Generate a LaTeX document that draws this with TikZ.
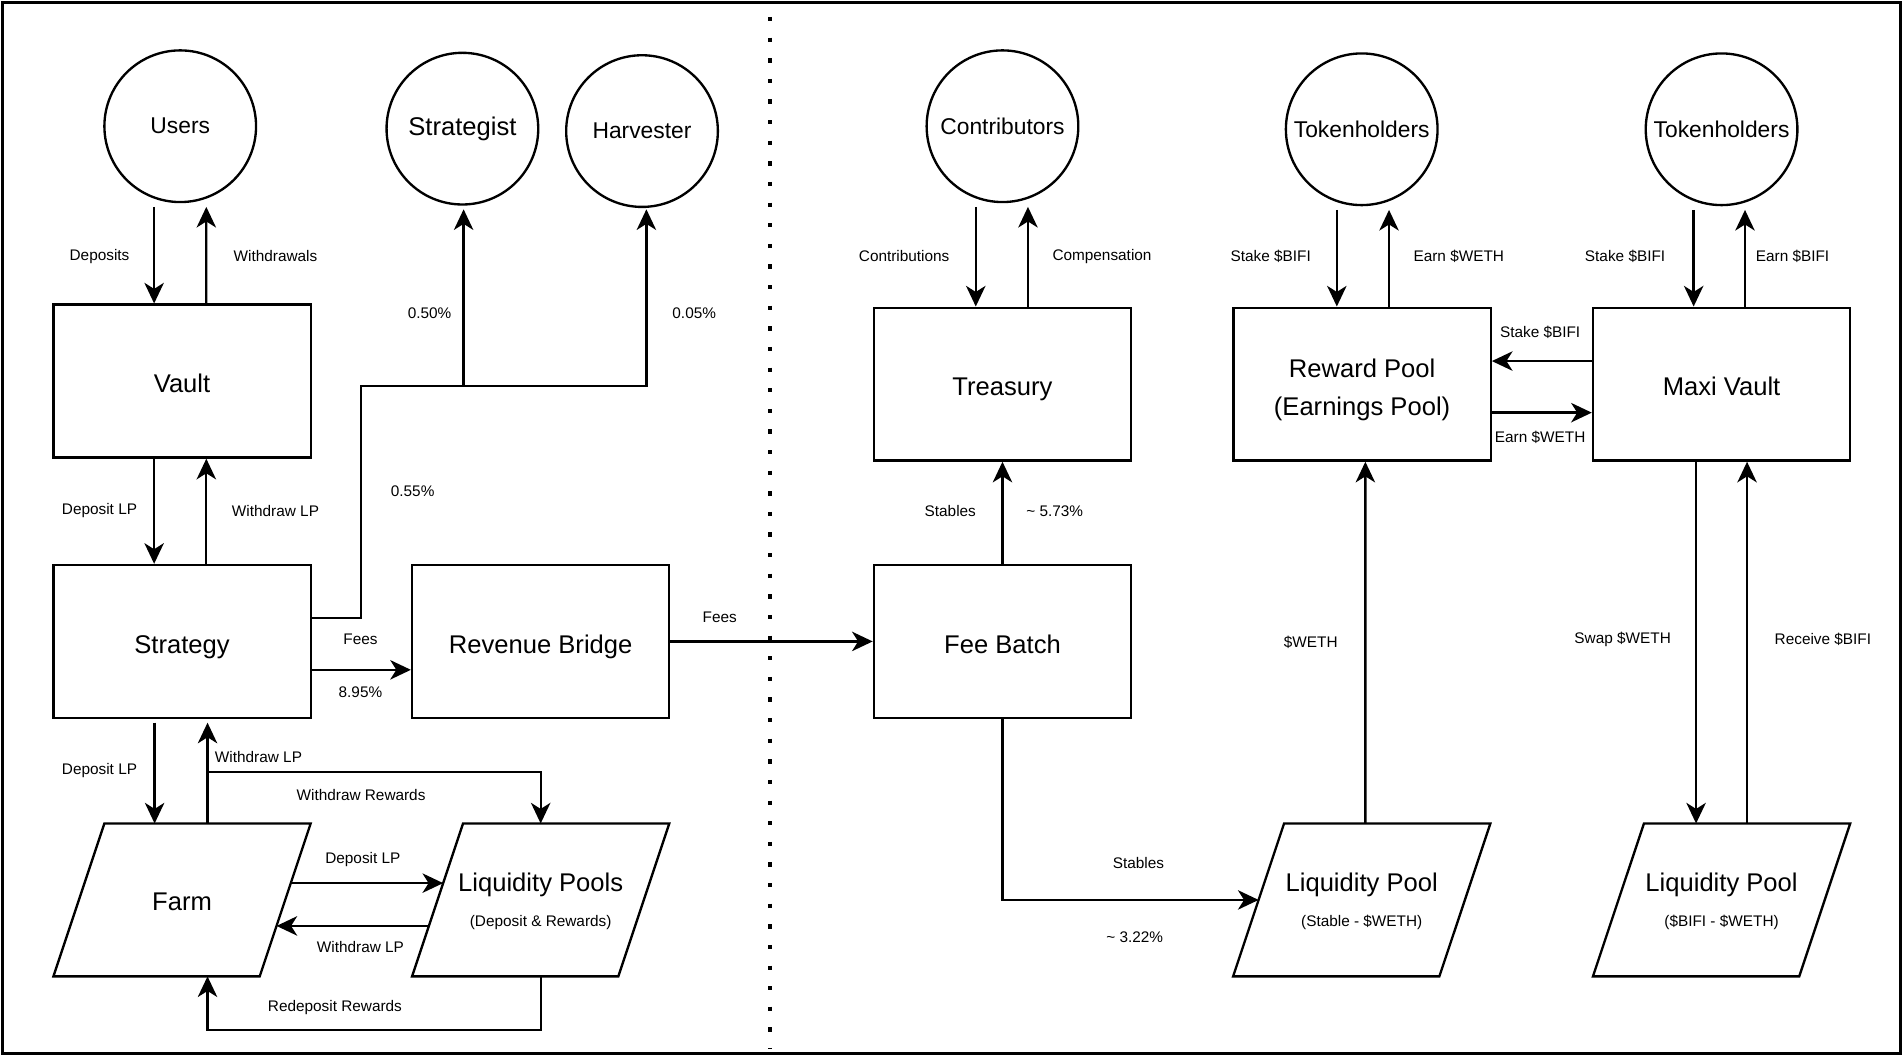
\documentclass[tikz,border=0pt]{standalone}
\usepackage{fontspec}
\setmainfont{Liberation Sans}
\usetikzlibrary{arrows.meta}
\usetikzlibrary{calc}

\def \lw {1.1pt}
\def \slant {42}
\newcommand{\pooltext}[1]{{\fontsize{7.2}{9}\selectfont #1}}

\tikzset{
  box/.style={draw, line width=\lw, minimum width=4.24cm, minimum height=2.52cm, inner sep=0pt, align=center, text height=11pt, text depth=0pt, font=\fontsize{12}{17.6}\selectfont},
  actor/.style={draw, circle, line width=\lw, minimum size=2.5cm, inner sep=0pt, font=\fontsize{10.7}{13}\selectfont},
  pool/.style={minimum width=4.24cm, minimum height=2.52cm, inner sep=0pt, outer sep=0pt, align=center, text depth=0pt, font=\fontsize{12}{16.4}\selectfont},
  flow/.style={line width=\lw, -{Stealth[length=0.34cm, width=0.32cm, inset=0.1cm]}},
  lbl/.style={inner sep=0pt, font=\fontsize{7.2}{9}\selectfont}
}

\begin{document}
\begin{tikzpicture}[x=0.02cm, y=-0.02cm]
	\useasboundingbox (0,0) rectangle (1568,870);

	% frame and divider
	\draw[line width=\lw] (2,2) rectangle (1566,868);
	\draw[line width=2pt, dash pattern=on 2pt off 7.67pt] (634.6,14) -- (634.6,864);

	% actors
	\node[actor] (users) at (148.5,104) {Users};
	\node[actor, font=\fontsize{12}{15}\selectfont] (strategist) at (381,106) {Strategist};
	\node[actor] (harvester) at (529,108) {Harvester};
	\node[actor] (contrib) at (826,104) {Contributors};
	\node[actor] (holdersA) at (1122,106.5) {Tokenholders};
	\node[actor] (holdersB) at (1418.5,106.5) {Tokenholders};

	% contracts
	\node[box] (vault) at (150,314) {Vault};
	\node[box] (strategy) at (150,528.5) {Strategy};
	\node[box] (bridge) at (445.5,528.5) {Revenue Bridge};
	\node[box] (treasury) at (826,316.5) {Treasury};
	\node[box] (feebatch) at (826,528.5) {Fee Batch};
	\node[box, text height=29pt] (reward) at (1122.3,316.5) {Reward Pool\\(Earnings Pool)};
	\node[box] (maxi) at (1418.5,316.5) {Maxi Vault};

	% pools
	\node[pool, text height=10pt] (farm) at (150,741.5) {Farm};
	\node[pool] (lpools) at (445.5,741.5) {Liquidity Pools\\\pooltext{(Deposit \& Rewards)}};
	\node[pool] (lpstable) at (1122,741.5) {Liquidity Pool\\\pooltext{(Stable - \$WETH)}};
	\node[pool] (lpbifi) at (1418.5,741.5) {Liquidity Pool\\\pooltext{(\$BIFI - \$WETH)}};

	\foreach \p in {farm,lpools,lpstable,lpbifi} {
		\coordinate (\p-tl) at ($(\p.north west)+(\slant,0)$);
		\coordinate (\p-br) at ($(\p.south east)+(-\slant,0)$);
		\draw[line width=\lw] (\p.south west) -- (\p-tl) -- (\p.north east) -- (\p-br) -- cycle;
	}

	% vault side
	\draw[flow] ($(users.south)+(-21.5,3)$) -- ($(vault.north)+(-23,0)$);
	\draw[flow] ($(vault.north)+(20,0)$) -- ($(users.south)+(21.5,3)$);
	\draw[flow] ($(vault.south)+(-23,0)$) -- ($(strategy.north)+(-23,0)$);
	\draw[flow] ($(strategy.north)+(20,0)$) -- ($(vault.south)+(20,0)$);

	\coordinate (split) at (382,318);
	\draw[flow] ($(strategy.north east)+(0,44.5)$) -| ($(split)+(-84.4,0)$) -| ($(harvester.south)+(3.6,1)$);
	\draw[flow] (split) -- ($(strategist.south)+(1,3)$);

	\draw[flow] ($(strategy.east)+(0,23.4)$) -- ($(bridge.west)+(0,23.4)$);
	\draw[flow] (bridge.east) -- (feebatch.west);

	\draw[flow] ($(strategy.south)+(-22.6,3)$) -- ($(farm.north)+(-22.6,0)$);
	\draw[flow] ($(farm.north)+(21,0)$) -- ($(strategy.south)+(21,3)$);
	\draw[flow] ($(farm.north)+(21,-42.5)$) -| (lpools.north);
	\draw[flow] ($(farm.north east)!0.39!(farm-br)$) -- ($(lpools-tl)!0.39!(lpools.south west)$);
	\draw[flow] ($(lpools-tl)!0.67!(lpools.south west)$) -- ($(farm.north east)!0.67!(farm-br)$);
	\draw[flow] (lpools.south) -- ++(0,44) -| ($(farm.south)+(21,0)$);

	% treasury side
	\draw[flow] ($(contrib.south)+(-22,3)$) -- ($(treasury.north)+(-22,0)$);
	\draw[flow] ($(treasury.north)+(21,0)$) -- ($(contrib.south)+(21,3)$);
	\draw[flow] (feebatch.north) -- (treasury.south);
	\draw[flow] (feebatch.south) |- ($(lpstable.west)+(\slant/2,0)$);
	\draw[flow] ($(lpstable.north)+(3,0)$) -- ($(reward.south)+(2.7,0)$);

	\draw[flow] ($(holdersA.south)+(-20.5,3)$) -- ($(reward.north)+(-20.8,0)$);
	\draw[flow] ($(reward.north)+(22.2,0)$) -- ($(holdersA.south)+(22.5,3)$);
	\draw[flow] ($(maxi.west)+(0,-19)$) -- ($(reward.east)+(0,-19)$);
	\draw[flow] ($(reward.east)+(0,23.5)$) -- ($(maxi.west)+(0,23.5)$);

	\draw[flow] ($(holdersB.south)+(-23,3)$) -- ($(maxi.north)+(-23,0)$);
	\draw[flow] ($(maxi.north)+(19.3,0)$) -- ($(holdersB.south)+(19.3,3)$);
	\draw[flow] ($(maxi.south)+(-21,0)$) -- ($(lpbifi.north)+(-21,0)$);
	\draw[flow] ($(lpbifi.north)+(21,0)$) -- ($(maxi.south)+(21,0)$);

	% labels
	\node[lbl] (lDeposits) at (82,211) {Deposits};
	\node[lbl] (lWithdrawals) at (227,211) {Withdrawals};
	\node[lbl] (lDepositA) at (82,421) {Deposit LP};
	\node[lbl] (lWithdrawA) at (227,421) {Withdraw LP};
	\node[lbl] (lStrat) at (354,258) {0.50\%};
	\node[lbl] (lHarv) at (572,258) {0.05\%};
	\node[lbl] (lCall) at (340,405) {0.55\%};
	\node[lbl] (lFeesA) at (297,527) {Fees};
	\node[lbl] (lPerf) at (297,570) {8.95\%};
	\node[lbl] (lFeesB) at (593,509) {Fees};
	\node[lbl] (lDepositB) at (82,635) {Deposit LP};
	\node[lbl] (lWithdrawB) at (213,624) {Withdraw LP};
	\node[lbl] (lRewards) at (297.5,655) {Withdraw Rewards};
	\node[lbl] (lDepositC) at (299,708) {Deposit LP};
	\node[lbl] (lWithdrawC) at (297,780) {Withdraw LP};
	\node[lbl] (lRedeposit) at (276,830) {Redeposit Rewards};
	\node[lbl] (lContrib) at (745,211) {Contributions};
	\node[lbl] (lComp) at (908,211) {Compensation};
	\node[lbl] (lStablesA) at (783,421) {Stables};
	\node[lbl] (lTreasury) at (869,421) {\textasciitilde{} 5.73\%};
	\node[lbl] (lStakeA) at (1047,211) {Stake \$BIFI};
	\node[lbl] (lEarnA) at (1202,211) {Earn \$WETH};
	\node[lbl] (lStakeB) at (1269,274) {Stake \$BIFI};
	\node[lbl] (lEarnB) at (1269,360) {Earn \$WETH};
	\node[lbl] (lStakeC) at (1339,211) {Stake \$BIFI};
	\node[lbl] (lEarnC) at (1477,211) {Earn \$BIFI};
	\node[lbl] (lWeth) at (1080,529) {\$WETH};
	\node[lbl] (lSwap) at (1337,527) {Swap \$WETH};
	\node[lbl] (lReceive) at (1502,527) {Receive \$BIFI};
	\node[lbl] (lStablesB) at (938,711) {Stables};
	\node[lbl] (lBuy) at (935,772) {\textasciitilde{} 3.22\%};
\end{tikzpicture}
\end{document}
